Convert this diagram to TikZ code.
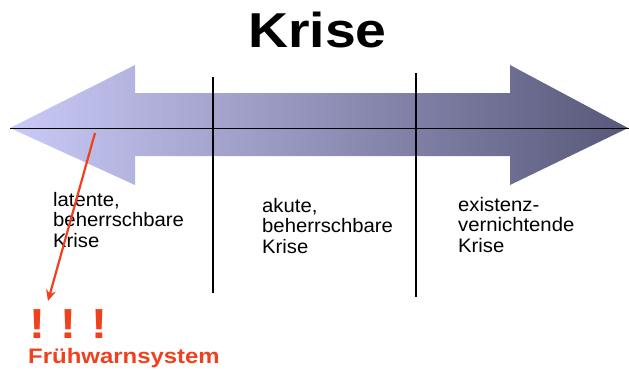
\documentclass[tikz,border=0pt]{standalone}
\usepackage{fontspec}
\setmainfont{Liberation Sans}
\newfontfamily\titlefont[FakeStretch=1.13]{Liberation Sans}
\newfontfamily\lblfont[FakeStretch=1.04]{Liberation Sans}
\newfontfamily\warnfont[FakeStretch=1.14]{Liberation Sans}
\usetikzlibrary{arrows.meta}
\definecolor{warnred}{RGB}{240,64,30}
\definecolor{lightl}{RGB}{202,202,248}
\definecolor{darkr}{RGB}{88,88,122}
\begin{document}
\begin{tikzpicture}[x=1bp,y=-1bp,
  lbl/.style={anchor=base west,inner sep=0pt,font=\lblfont\fontsize{19.5bp}{20.8bp}\selectfont},
  divider/.style={draw=black,line width=1.1bp},
  warn/.style={text=warnred,inner sep=0pt,anchor=base}]
\useasboundingbox (0,0) rectangle (629,369);
% double arrow
\shade[left color=lightl,right color=darkr]
  (10,128) -- (135,65) -- (135,93) -- (510,93) -- (510,65) -- (628,128)
  -- (510,185) -- (510,156) -- (135,156) -- (135,185) -- cycle;
\coordinate (hl) at (10,128);
\coordinate (hr) at (629,128);
\draw[black,line width=0.8bp] (hl) -- (hr);
\coordinate (v1t) at (213,77);
\coordinate (v1b) at (213,293);
\coordinate (v2t) at (416,73);
\coordinate (v2b) at (416,297);
\draw[divider] (v1t) -- (v1b);
\draw[divider] (v2t) -- (v2b);
\node[anchor=base,inner sep=0pt,font=\titlefont\bfseries\fontsize{49bp}{54bp}\selectfont] (title) at (317.5,47) {Krise};
\node[lbl] (l1) at (53,206) {\begin{tabular}[t]{@{}l@{}}latente,\\beherrschbare\\Krise\end{tabular}};
\node[lbl] (l2) at (262,212) {\begin{tabular}[t]{@{}l@{}}akute,\\beherrschbare\\Krise\end{tabular}};
\node[lbl] (l3) at (458,211) {\begin{tabular}[t]{@{}l@{}}existenz-\\vernichtende\\Krise\end{tabular}};
\node[warn,font=\warnfont\bfseries\fontsize{42bp}{44bp}\selectfont] (ex1) at (37,338) {!};
\node[warn,font=\warnfont\bfseries\fontsize{42bp}{44bp}\selectfont] (ex2) at (68,338) {!};
\node[warn,font=\warnfont\bfseries\fontsize{42bp}{44bp}\selectfont] (ex3) at (99,338) {!};
\node[warn,anchor=base west,font=\warnfont\bfseries\fontsize{21bp}{24bp}\selectfont] (fw) at (28,363) {Frühwarnsystem};
\coordinate (rs) at (95,133);
\coordinate (re) at (48,301);
\draw[warnred,line width=2.2bp,-{Stealth[length=11bp,width=10bp]}] (rs) -- (re);
\end{tikzpicture}
\end{document}
